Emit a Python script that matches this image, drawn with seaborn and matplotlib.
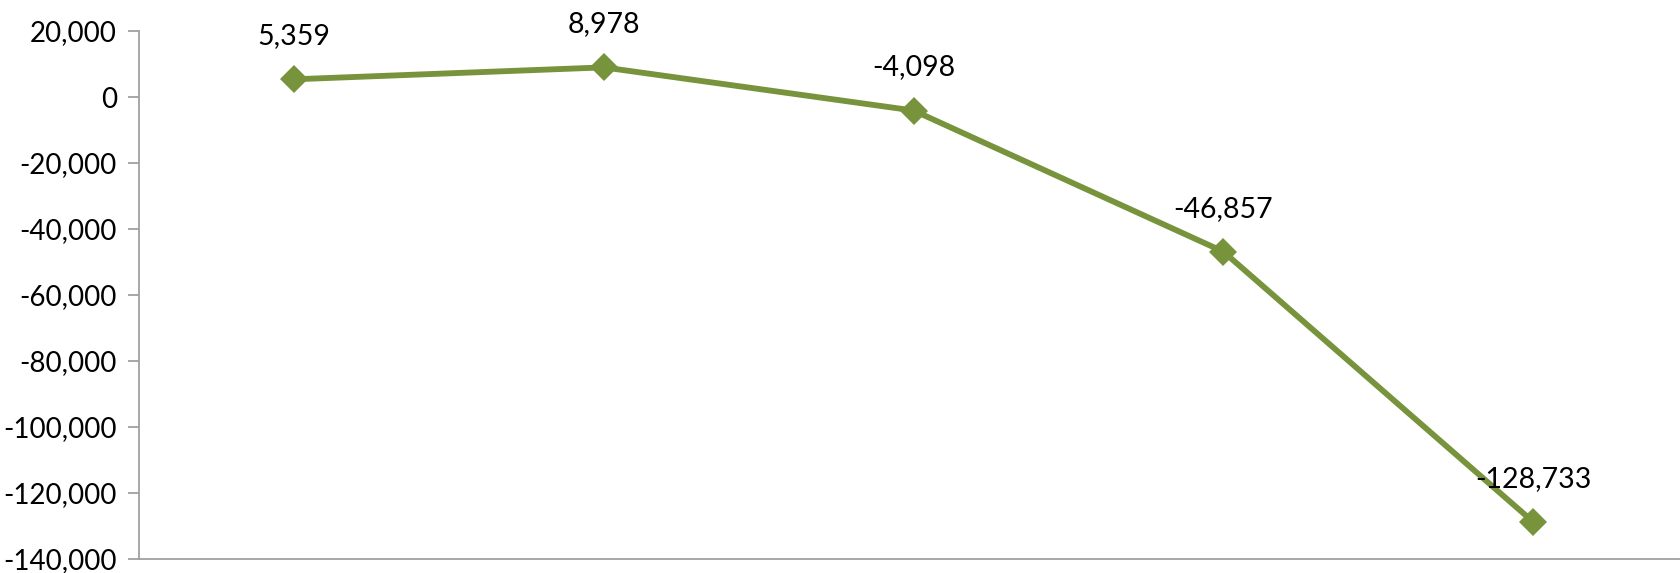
import matplotlib.pyplot as plt
import matplotlib.ticker as mticker
import seaborn as sns
import pandas as pd

# values (x categories carry no labels)
periods = [0, 1, 2, 3, 4]
values = [5359, 8978, -4098, -46857, -128733]
y_ticks = list(range(-140000, 20001, 20000))

line_color = "#77933C"

sns.set_theme(style="white")
plt.rcParams["font.family"] = ["Lato", "DejaVu Sans"]

df = pd.DataFrame({"period": periods, "value": values})

fig = plt.figure(figsize=(16.8, 5.73), dpi=100)
ax = fig.add_axes([139 / 1680, 14 / 573, 1 - 139 / 1680, 528 / 573])

sns.lineplot(data=df, x="period", y="value", ax=ax, color=line_color,
             linewidth=4.2, marker="D", markersize=14, markeredgewidth=0)

# data labels above each marker
for x, v in zip(df["period"], df["value"]):
    ax.annotate(f"{v:,}", (x, v), xytext=(0, 31), textcoords="offset points",
                ha="center", va="center", fontsize=20.5, color="black")

ax.set_xlim(-0.5, 4.474)
ax.set_ylim(-140000, 20000)
ax.set_yticks(y_ticks)
ax.yaxis.set_major_formatter(mticker.FuncFormatter(lambda v, p: f"{v:,.0f}"))
ax.set_xticks([])
ax.set_xlabel("")
ax.set_ylabel("")

for side in ["top", "right"]:
    ax.spines[side].set_visible(False)
for side in ["left", "bottom"]:
    ax.spines[side].set_color("#A0A0A0")
    ax.spines[side].set_linewidth(1.3)
ax.tick_params(axis="y", left=True, length=8, width=1.3, color="#A0A0A0",
               labelsize=20, labelcolor="black", pad=8)

fig.savefig("out.png", dpi=100)
